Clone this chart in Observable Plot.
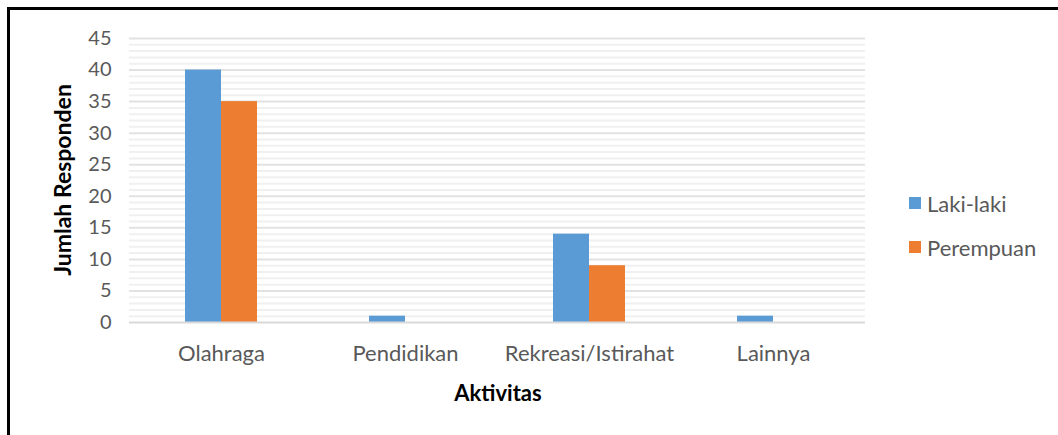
<!DOCTYPE html>
<html>
<head>
<meta charset="utf-8">
<script src="https://cdn.jsdelivr.net/npm/d3@7"></script>
<script src="https://cdn.jsdelivr.net/npm/@observablehq/plot@0.6"></script>
<style>
  body { margin: 0; background: #fff; }
  #wrap { position: relative; width: 1058px; height: 435px; overflow: hidden; font-family: Lato, "Open Sans", sans-serif; }
  #border { position: absolute; left: 7px; top: 7px; width: 1100px; height: 500px; border-left: 3px solid #000; border-top: 3px solid #000; box-sizing: border-box; }
  #chart { position: absolute; left: 0; top: 0; }
  .leg { position: absolute; left: 909px; font-size: 22px; color: #595959; display: flex; align-items: center; height: 24px; }
  .leg span.sw { display: inline-block; width: 12px; height: 12px; margin-right: 6px; }
  .title { position: absolute; font-weight: bold; font-size: 22px; color: #000; white-space: nowrap; }
  #ytitle { left: 62px; top: 180px; font-size: 23px; transform: translate(-50%, -50%) rotate(-90deg); }
  #xtitle { left: 498px; top: 392px; transform: translate(-50%, -50%); }
</style>
</head>
<body>
<div id="wrap">
  <div id="border"></div>
  <div id="chart"></div>
  <div id="legend"></div>
  <div class="title" id="ytitle"></div>
  <div class="title" id="xtitle"></div>
</div>
<script>
const categories = ["Olahraga", "Pendidikan", "Rekreasi/Istirahat", "Lainnya"];
const seriesNames = ["Laki-laki", "Perempuan"];
const lakiLaki = [40, 1, 14, 1];
const perempuan = [35, 0, 9, 0];
const colors = ["#5B9BD5", "#ED7D31"];
const yTicks = [0, 5, 10, 15, 20, 25, 30, 35, 40, 45];
const minorTicks = d3.range(0, 46).filter(v => v % 5 !== 0);
const yTitle = "Jumlah Responden";
const xTitle = "Aktivitas";

const data = [];
categories.forEach((c, i) => {
  data.push({cat: c, series: seriesNames[0], value: lakiLaki[i]});
  data.push({cat: c, series: seriesNames[1], value: perempuan[i]});
});

const chart = Plot.plot({
  width: 1058,
  height: 435,
  marginLeft: 128,
  marginRight: 192,
  marginTop: 38,
  marginBottom: 113,
  style: {fontFamily: "Lato, 'Open Sans', sans-serif", background: "transparent"},
  fx: {domain: categories, padding: 0, label: null, axis: null},
  x: {domain: seriesNames, paddingInner: 0, paddingOuter: 1.49, axis: null},
  y: {domain: [0, 45], axis: null},
  color: {domain: seriesNames, range: colors},
  marks: [
    Plot.ruleY(minorTicks, {stroke: "#f0f0f0", strokeWidth: 2}),
    Plot.ruleY(yTicks.filter(v => v > 0), {stroke: "#e2e2e2", strokeWidth: 2}),
    Plot.barY(data, {fx: "cat", x: "series", y: "value", fill: "series"}),
    Plot.ruleY([0], {stroke: "#d9d9d9", strokeWidth: 2}),
    Plot.axisY(yTicks, {ticks: yTicks, tickSize: 0, tickPadding: 18, fontSize: 20, fill: "#595959", label: null}),
    Plot.axisFx({anchor: "bottom", tickSize: 0, tickPadding: 23, fontSize: 22, fill: "#595959", label: null})
  ]
});
document.getElementById("chart").appendChild(chart);

document.getElementById("ytitle").textContent = yTitle;
document.getElementById("xtitle").textContent = xTitle;

const legend = document.getElementById("legend");
seriesNames.forEach((s, i) => {
  const d = document.createElement("div");
  d.className = "leg";
  d.style.top = (191 + i * 44) + "px";
  d.innerHTML = `<span class="sw" style="background:${colors[i]}"></span>${s}`;
  legend.appendChild(d);
});
</script>
</body>
</html>
